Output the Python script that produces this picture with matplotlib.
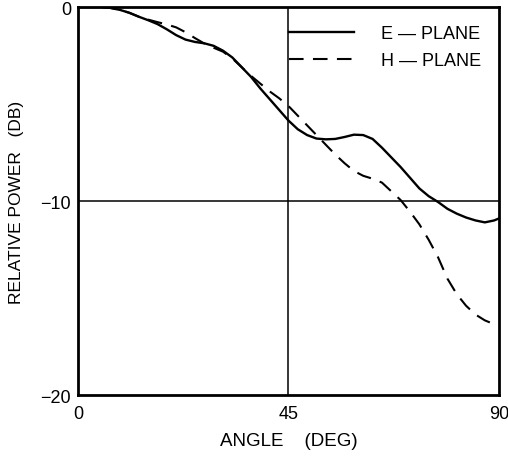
import matplotlib
matplotlib.use('Agg')
import matplotlib.pyplot as plt

plt.rcParams['font.family'] = ['Liberation Sans', 'DejaVu Sans']

# E-plane (solid)
e_angle = [0, 5, 7, 9, 11, 13, 15, 17, 19, 21, 23, 25, 27, 29, 31, 33, 35, 37, 39, 41, 43, 45, 47, 49, 51, 53, 55,
           57, 59, 61, 63, 65, 67, 69, 71, 73, 75, 77, 79, 81, 83, 85, 87, 89, 90]
e_db = [0, 0, -0.05, -0.15, -0.3, -0.5, -0.68, -0.88, -1.15, -1.45, -1.68, -1.8, -1.87, -2.0, -2.25, -2.6, -3.1,
        -3.6, -4.2, -4.75, -5.3, -5.85, -6.3, -6.6, -6.78, -6.82, -6.8, -6.7, -6.58, -6.6, -6.8, -7.25, -7.75,
        -8.25, -8.8, -9.35, -9.75, -10.05, -10.4, -10.65, -10.85, -11.0, -11.1, -11.0, -10.9]

# H-plane (dashed)
h_angle = [0, 5, 7, 9, 11, 13, 15, 17, 19, 21, 23, 25, 27, 29, 31, 33, 35, 37, 39, 41, 43, 45, 47, 49, 51, 53, 55,
           57, 59, 61, 63, 65, 67, 69, 71, 73, 75, 77, 79, 81, 83, 85, 87, 89, 90]
h_db = [0, 0, -0.05, -0.15, -0.3, -0.5, -0.65, -0.78, -0.9, -1.05, -1.3, -1.6, -1.88, -2.1, -2.3, -2.65, -3.1,
        -3.55, -3.95, -4.35, -4.7, -5.1, -5.6, -6.1, -6.6, -7.1, -7.6, -8.05, -8.45, -8.7, -8.85, -9.05, -9.5,
        -9.95, -10.55, -11.2, -12.0, -12.9, -14.0, -14.8, -15.4, -15.85, -16.15, -16.35, -16.4]

xticks = [0, 45, 90]
yticks = [0, -10, -20]
ytick_labels = ['0', '\u221210', '\u221220']

fig = plt.figure(figsize=(5.08, 4.6), dpi=100)
ax = fig.add_axes([0.1535, 0.139, 0.8285, 0.8436])

ax.axvline(45, color='black', lw=1.1, zorder=1)
ax.axhline(-10, color='black', lw=1.1, zorder=1)

ax.plot(e_angle, e_db, color='black', lw=1.7, label='E \u2014 PLANE')
ax.plot(h_angle, h_db, color='black', lw=1.5, dashes=(7, 4.5), label='H \u2014 PLANE')

ax.set_xlim(0, 90)
ax.set_ylim(-20, 0)
ax.set_xticks(xticks)
ax.set_yticks(yticks)
ax.set_yticklabels(ytick_labels)
ax.tick_params(length=0, labelsize=13)
ax.tick_params(axis='x', pad=7)
ax.tick_params(axis='y', pad=5)
for s in ax.spines.values():
    s.set_linewidth(2)

ax.set_xlabel('ANGLE    (DEG)', fontsize=13.5, labelpad=7)
ax.set_ylabel('RELATIVE POWER   (DB)', fontsize=12.5, labelpad=12)

ax.legend(loc='upper right', frameon=False, fontsize=13, handlelength=3.6,
          handletextpad=1.5, borderaxespad=0.6, labelspacing=0.55)

fig.savefig('out.png', dpi=100)
